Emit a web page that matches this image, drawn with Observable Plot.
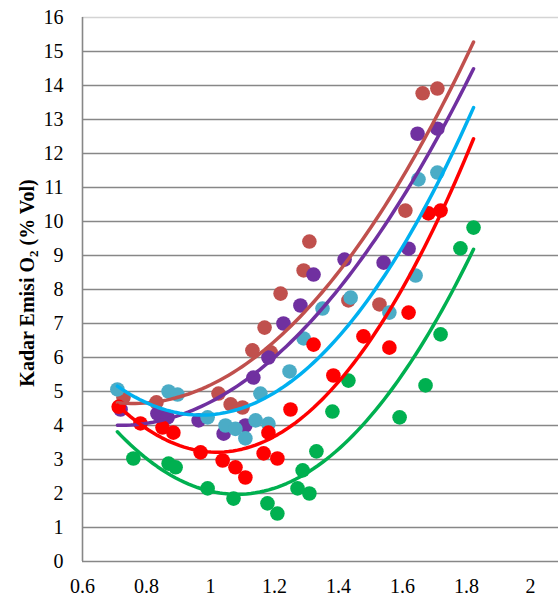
<!DOCTYPE html>
<html><head><meta charset="utf-8">
<script src="https://cdn.jsdelivr.net/npm/d3@7"></script>
<script src="https://cdn.jsdelivr.net/npm/@observablehq/plot@0.6"></script>
<style>body{margin:0;background:#fff}</style>
</head><body><div id="chart"></div>
<script>
// ---- data ----
const xTicks = [0.6, 0.8, 1, 1.2, 1.4, 1.6, 1.8, 2];
const yTicks = [0,1,2,3,4,5,6,7,8,9,10,11,12,13,14,15,16];

const brownX  = [0.728,0.831,1.025,1.063,1.100,1.131,1.169,1.188,1.219,1.291,1.309,1.431,1.528,1.609,1.663,1.709];
const brownY  = [4.82,4.68,4.94,4.62,4.53,6.21,6.88,6.15,7.88,8.56,9.41,7.68,7.56,10.32,13.77,13.91];

const purpleX = [0.719,0.834,0.866,0.963,1.041,1.109,1.134,1.181,1.228,1.281,1.322,1.419,1.541,1.619,1.647,1.709];
const purpleY = [4.47,4.35,4.24,4.15,3.76,4.00,5.41,6.00,7.00,7.53,8.44,8.88,8.79,9.20,12.58,12.73];

const blueX   = [0.709,0.869,0.897,0.991,1.047,1.078,1.109,1.141,1.156,1.181,1.247,1.291,1.350,1.438,1.559,1.641,1.650,1.709];
const blueY   = [5.06,5.00,4.91,4.24,4.00,3.90,3.62,4.15,4.94,4.05,5.59,6.56,7.44,7.76,7.32,8.41,11.24,11.44];

const redX    = [0.713,0.781,0.850,0.884,0.969,1.038,1.078,1.109,1.166,1.181,1.209,1.250,1.322,1.384,1.478,1.559,1.619,1.681,1.719];
const redY    = [4.55,4.06,3.94,3.79,3.21,2.97,2.77,2.47,3.18,3.79,3.03,4.47,6.38,5.47,6.62,6.29,7.32,10.24,10.32];

const greenX  = [0.759,0.869,0.891,0.991,1.072,1.178,1.209,1.272,1.288,1.309,1.331,1.381,1.431,1.591,1.672,1.719,1.781,1.822];
const greenY  = [3.03,2.88,2.77,2.15,1.85,1.71,1.41,2.15,2.68,2.00,3.24,4.41,5.32,4.24,5.18,6.68,9.21,9.82];

const series = [
  {name: "s1", xs: brownX,  ys: brownY,  dot: "#c0504d", line: "#c0504d"},
  {name: "s2", xs: purpleX, ys: purpleY, dot: "#7030a0", line: "#7030a0"},
  {name: "s3", xs: blueX,   ys: blueY,   dot: "#4bacc6", line: "#00b0f0"},
  {name: "s4", xs: redX,    ys: redY,    dot: "#ff0000", line: "#ff0000"},
  {name: "s5", xs: greenX,  ys: greenY,  dot: "#00b050", line: "#00b050"}
];

// ---- quadratic least-squares trendline (as in the source spreadsheet) ----
function quadFit(xs, ys) {
  let n = xs.length, s1=0,s2=0,s3=0,s4=0,t0=0,t1=0,t2=0;
  for (let i=0;i<n;i++){const x=xs[i],y=ys[i],x2=x*x;s1+=x;s2+=x2;s3+=x2*x;s4+=x2*x2;t0+=y;t1+=x*y;t2+=x2*y;}
  const A=[[n,s1,s2,t0],[s1,s2,s3,t1],[s2,s3,s4,t2]];
  for (let c=0;c<3;c++){
    for (let r=c+1;r<3;r++){const f=A[r][c]/A[c][c];for(let k=c;k<4;k++)A[r][k]-=f*A[c][k];}
  }
  const b=[0,0,0];
  for (let r=2;r>=0;r--){let s=A[r][3];for(let k=r+1;k<3;k++)s-=A[r][k]*b[k];b[r]=s/A[r][r];}
  return x => b[0]+b[1]*x+b[2]*x*x;
}

const allX = series.flatMap(s => s.xs);
const xmin = d3.min(allX), xmax = d3.max(allX);

const points = series.flatMap(s => s.xs.map((x,i) => ({series: s.name, x, y: s.ys[i], color: s.dot})));
const curves = series.flatMap(s => {
  const f = quadFit(s.xs, s.ys);
  return d3.range(0, 81).map(i => {const x = xmin + (xmax-xmin)*i/80; return {series: s.name, x, y: f(x), color: s.line};});
});

const plot = Plot.plot({
  width: 560, height: 597,
  marginLeft: 82, marginRight: 2, marginTop: 17, marginBottom: 36,
  style: {fontFamily: "'Liberation Serif', 'Times New Roman', serif", fontSize: "20px", background: "#fff", color: "#000", overflow: "visible"},
  x: {domain: [0.6, 2.0875]},
  y: {domain: [0, 16]},
  color: {type: "identity"},
  marks: [
    Plot.ruleY(yTicks, {stroke: d => d === 16 ? "#d4d4d4" : "#878787", strokeWidth: 1.6}),
    Plot.ruleX([0.6], {stroke: "#878787", strokeWidth: 1.6}),
    Plot.axisY({ticks: yTicks, tickSize: 0, tickPadding: 19, label: null, fontSize: 20}),
    Plot.axisX({ticks: xTicks, tickSize: 0, tickPadding: 17, label: null, fontSize: 20, tickFormat: d => String(d)}),
    Plot.dot(points, {x: "x", y: "y", r: 7.3, fill: "color", stroke: null}),
    Plot.line(curves, {x: "x", y: "y", z: "series", stroke: "color", strokeWidth: 3.5, curve: "linear"})
  ]
});

const svg = d3.select(plot);
const t = svg.append("text")
  .attr("transform", "translate(34,283) rotate(-90)")
  .attr("text-anchor", "middle")
  .attr("font-family", "'Liberation Serif', 'Times New Roman', serif")
  .attr("font-weight", "bold")
  .attr("font-size", 20)
  .attr("fill", "#000");
t.append("tspan").text("Kadar Emisi O");
t.append("tspan").attr("font-size", 13).attr("dy", 4).text("2");
t.append("tspan").attr("dy", -4).text(" (% Vol)");

document.getElementById("chart").appendChild(plot);
</script>
</body></html>
